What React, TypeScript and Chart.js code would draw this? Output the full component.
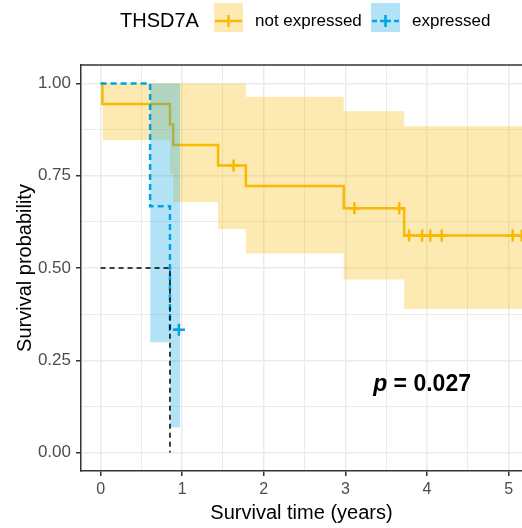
import React, { useEffect, useRef } from "react";
import { Chart, registerables } from "chart.js";

Chart.register(...registerables);

// ---------- data ----------
const LEGEND_TITLE = "THSD7A";
const GROUP_LABELS = ["not expressed", "expressed"];
const X_TITLE = "Survival time (years)";
const Y_TITLE = "Survival probability";
const P_TEXT_P = "p";
const P_TEXT_REST = " = 0.027";

const X_MAJOR = [0, 1, 2, 3, 4, 5];
const X_MINOR = [0.5, 1.5, 2.5, 3.5, 4.5];
const Y_MAJOR = [0, 0.25, 0.5, 0.75, 1];
const Y_MINOR = [0.125, 0.375, 0.625, 0.875];
const Y_TICK_LABELS = ["0.00", "0.25", "0.50", "0.75", "1.00"];

// not expressed
const NE_TIME = [0, 0.022, 0.85, 0.89, 1.44, 1.78, 2.98, 3.72, 5.2];
const NE_SURV = [1.0, 0.944, 0.889, 0.833, 0.778, 0.722, 0.662, 0.588, 0.588];
const NE_CI_TIME = [0.022, 0.85, 0.89, 1.44, 1.78, 2.98, 3.72, 5.2];
const NE_UPPER = [1, 1, 1, 1, 0.964, 0.925, 0.884, 0.884];
const NE_LOWER = [0.846, 0.756, 0.679, 0.606, 0.539, 0.469, 0.389, 0.389];
const NE_CENSOR_TIME = [1.63, 3.11, 3.66, 3.78, 3.94, 4.04, 4.18, 5.05, 5.16];
const NE_CENSOR_SURV = [0.778, 0.662, 0.662, 0.588, 0.588, 0.588, 0.588, 0.588, 0.588];

// expressed
const EX_TIME = [0, 0.607, 0.85, 0.96];
const EX_SURV = [1.0, 0.667, 0.333, 0.333];
const EX_CI_TIME = [0.607, 0.85, 0.975];
const EX_UPPER = [1, 1, 1];
const EX_LOWER = [0.299, 0.068, 0.068];
const EX_CENSOR_TIME = [0.96];
const EX_CENSOR_SURV = [0.333];

// median survival guide
const MEDIAN_TIME = [0, 0.85, 0.85];
const MEDIAN_SURV = [0.5, 0.5, 0];

// p-value anchor (data coords)
const P_X = 3.34;
const P_Y = 0.185;

// ---------- styles ----------
const FONT = '"Liberation Sans", Arial, sans-serif';
const ORANGE = "rgb(248,185,0)";
const ORANGE_FILL = "rgba(248,185,0,0.3)";
const BLUE = "rgb(0,162,225)";
const BLUE_FILL = "rgba(0,162,225,0.3)";
const GRID = "#EBEBEB";
const AXIS = "#333333";

const pts = (xs: number[], ys: number[]) => xs.map((x, i) => ({ x, y: ys[i] }));

const overlay = {
  id: "overlay",
  afterDraw(chart: any) {
    const { ctx, chartArea, scales } = chart;
    ctx.save();
    // top panel border
    ctx.strokeStyle = AXIS;
    ctx.lineWidth = 1.5;
    ctx.beginPath();
    ctx.moveTo(chartArea.left, chartArea.top);
    ctx.lineTo(chartArea.right + 2, chartArea.top);
    ctx.stroke();

    // p-value
    const px = scales.x.getPixelForValue(P_X);
    const py = scales.y.getPixelForValue(P_Y);
    ctx.fillStyle = "#000";
    ctx.textBaseline = "middle";
    ctx.textAlign = "left";
    ctx.font = `italic bold 23px ${FONT}`;
    ctx.fillText(P_TEXT_P, px, py);
    const w = ctx.measureText(P_TEXT_P).width;
    ctx.font = `bold 23px ${FONT}`;
    ctx.fillText(P_TEXT_REST, px + w, py);

    // legend
    const ly = 21;
    ctx.font = `20px ${FONT}`;
    ctx.fillStyle = "#000";
    ctx.fillText(LEGEND_TITLE, 120, ly);

    // key 1
    ctx.fillStyle = ORANGE_FILL;
    ctx.fillRect(214, 3, 29, 29);
    ctx.strokeStyle = ORANGE;
    ctx.lineWidth = 2.5;
    ctx.beginPath();
    ctx.moveTo(215, ly);
    ctx.lineTo(242, ly);
    ctx.moveTo(228.5, ly - 6);
    ctx.lineTo(228.5, ly + 6);
    ctx.stroke();
    ctx.fillStyle = "#000";
    ctx.font = `17px ${FONT}`;
    ctx.fillText(GROUP_LABELS[0], 255, ly);

    // key 2
    ctx.fillStyle = BLUE_FILL;
    ctx.fillRect(371, 3, 29, 29);
    ctx.strokeStyle = BLUE;
    ctx.beginPath();
    ctx.moveTo(372, ly);
    ctx.lineTo(377, ly);
    ctx.moveTo(380, ly);
    ctx.lineTo(391, ly);
    ctx.moveTo(394, ly);
    ctx.lineTo(399, ly);
    ctx.moveTo(385.5, ly - 6);
    ctx.lineTo(385.5, ly + 6);
    ctx.stroke();
    ctx.fillStyle = "#000";
    ctx.fillText(GROUP_LABELS[1], 412, ly);
    ctx.restore();
  },
};

export default function App() {
  const ref = useRef<HTMLCanvasElement | null>(null);

  useEffect(() => {
    if (!ref.current) return;
    const xTicks = [...X_MAJOR, ...X_MINOR].sort((a, b) => a - b);
    const yTicks = [...Y_MAJOR, ...Y_MINOR].sort((a, b) => a - b);
    const isMajorX = (v: number) => X_MAJOR.includes(v);
    const isMajorY = (v: number) => Y_MAJOR.includes(v);

    const chart = new Chart(ref.current, {
      type: "line",
      data: {
        datasets: [
          {
            label: "median",
            data: pts(MEDIAN_TIME, MEDIAN_SURV),
            borderColor: "#000",
            borderWidth: 1.5,
            borderDash: [5, 4],
            pointRadius: 0,
            fill: false,
            order: 0,
          },
          {
            label: "ex censor",
            data: pts(EX_CENSOR_TIME, EX_CENSOR_SURV),
            showLine: false,
            pointStyle: "cross",
            pointRadius: 6,
            pointBorderWidth: 2.5,
            pointBorderColor: BLUE,
            order: 1,
          },
          {
            label: "ne censor",
            data: pts(NE_CENSOR_TIME, NE_CENSOR_SURV),
            showLine: false,
            pointStyle: "cross",
            pointRadius: 6,
            pointBorderWidth: 2.5,
            pointBorderColor: ORANGE,
            order: 2,
          },
          {
            label: "ex upper",
            data: pts(EX_CI_TIME, EX_UPPER),
            stepped: true,
            borderWidth: 0,
            borderColor: "rgba(0,0,0,0)",
            backgroundColor: BLUE_FILL,
            pointRadius: 0,
            fill: "+1",
            order: 3,
          },
          {
            label: "ex lower",
            data: pts(EX_CI_TIME, EX_LOWER),
            stepped: true,
            borderWidth: 0,
            borderColor: "rgba(0,0,0,0)",
            pointRadius: 0,
            fill: false,
            order: 4,
          },
          {
            label: GROUP_LABELS[1],
            data: pts(EX_TIME, EX_SURV),
            stepped: true,
            borderColor: BLUE,
            borderWidth: 2.5,
            borderDash: [6, 4],
            pointRadius: 0,
            fill: false,
            order: 5,
          },
          {
            label: "ne upper",
            data: pts(NE_CI_TIME, NE_UPPER),
            stepped: true,
            borderWidth: 0,
            borderColor: "rgba(0,0,0,0)",
            backgroundColor: ORANGE_FILL,
            pointRadius: 0,
            fill: "+1",
            order: 6,
          },
          {
            label: "ne lower",
            data: pts(NE_CI_TIME, NE_LOWER),
            stepped: true,
            borderWidth: 0,
            borderColor: "rgba(0,0,0,0)",
            pointRadius: 0,
            fill: false,
            order: 7,
          },
          {
            label: GROUP_LABELS[0],
            data: pts(NE_TIME, NE_SURV),
            stepped: true,
            borderColor: ORANGE,
            borderWidth: 2.5,
            pointRadius: 0,
            fill: false,
            order: 8,
          },
        ],
      },
      options: {
        responsive: false,
        animation: false,
        devicePixelRatio: 1,
        layout: { autoPadding: false, padding: { top: 65, left: 0, right: 0, bottom: 0 } },
        plugins: { legend: { display: false }, tooltip: { enabled: false } },
        scales: {
          x: {
            type: "linear",
            min: -0.24,
            max: 5.164,
            afterBuildTicks: (s: any) => {
              s.ticks = xTicks.map((v) => ({ value: v }));
            },
            afterFit: (s: any) => {
              s.height = 57;
              s.paddingLeft = 0;
              s.paddingRight = 0;
            },
            grid: {
              color: GRID,
              lineWidth: (c: any) => (c.tick && isMajorX(c.tick.value) ? 1.5 : 1),
              tickColor: (c: any) => (c.tick && isMajorX(c.tick.value) ? AXIS : "rgba(0,0,0,0)"),
              tickLength: 5,
            },
            border: { display: true, color: AXIS, width: 1.5 },
            ticks: {
              autoSkip: false,
              maxRotation: 0,
              padding: 4,
              color: "#4D4D4D",
              font: { family: FONT, size: 16 },
              callback: (v: any) => (isMajorX(Number(v)) ? String(v) : ""),
            },
            title: {
              display: true,
              text: X_TITLE,
              color: "#000",
              font: { family: FONT, size: 20 },
              padding: { top: 0, bottom: 3 },
            },
          },
          y: {
            type: "linear",
            min: -0.05,
            max: 1.05,
            afterBuildTicks: (s: any) => {
              s.ticks = yTicks.map((v) => ({ value: v }));
            },
            afterFit: (s: any) => {
              s.width = 81;
              s.paddingTop = 0;
              s.paddingBottom = 0;
            },
            grid: {
              color: GRID,
              lineWidth: (c: any) => (c.tick && isMajorY(c.tick.value) ? 1.5 : 1),
              tickColor: (c: any) => (c.tick && isMajorY(c.tick.value) ? AXIS : "rgba(0,0,0,0)"),
              tickLength: 5,
            },
            border: { display: true, color: AXIS, width: 1.5 },
            ticks: {
              autoSkip: false,
              padding: 5,
              color: "#4D4D4D",
              font: { family: FONT, size: 17 },
              callback: (v: any) => {
                const i = Y_MAJOR.indexOf(Number(v));
                return i >= 0 ? Y_TICK_LABELS[i] : "";
              },
            },
            title: {
              display: true,
              text: Y_TITLE,
              color: "#000",
              font: { family: FONT, size: 20 },
              padding: { top: 13, bottom: 0 },
            },
          },
        },
      },
      plugins: [overlay],
    } as any);
    return () => chart.destroy();
  }, []);

  return (
    <div style={{ position: "absolute", left: 0, top: 0, width: 522, height: 528 }}>
      <canvas ref={ref} width={522} height={528} style={{ display: "block" }} />
    </div>
  );
}
